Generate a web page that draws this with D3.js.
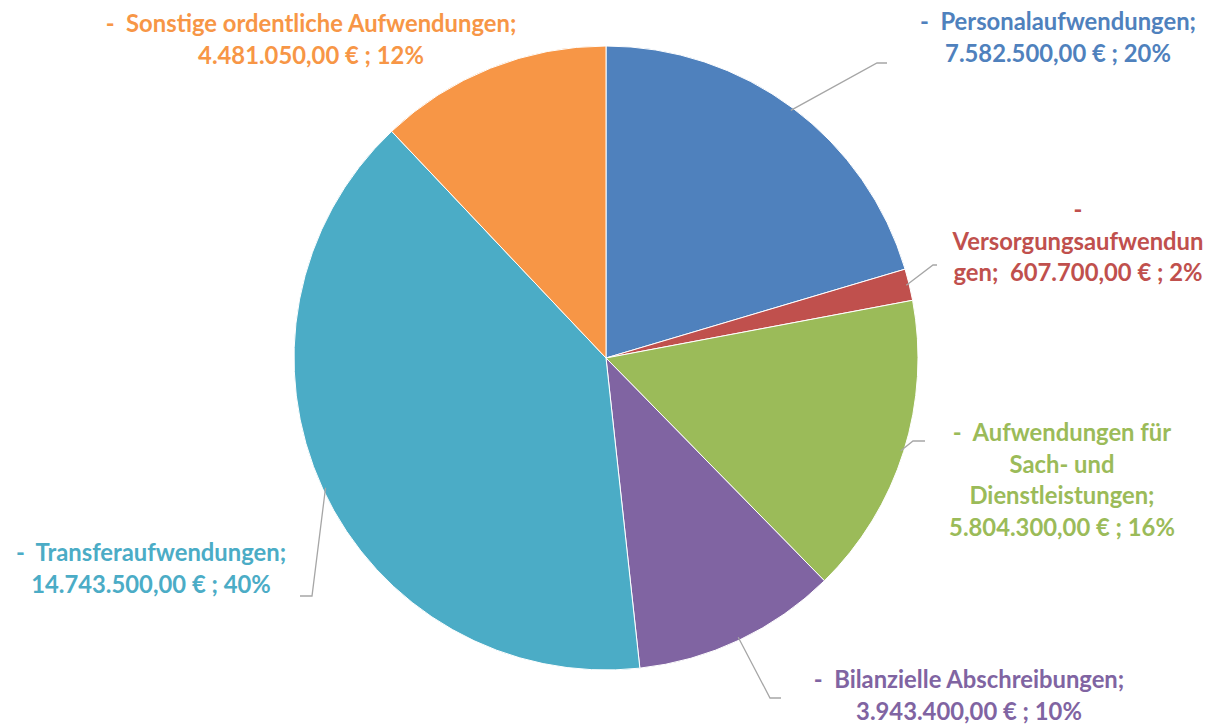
<!DOCTYPE html>
<html>
<head>
<meta charset="utf-8">
<script src="https://cdn.jsdelivr.net/npm/d3@7"></script>
<style>
  body { margin: 0; background: #fff; }
  text { font-family: "Lato", "Open Sans", sans-serif; font-weight: 700; }
</style>
</head>
<body>
<div id="chart"></div>
<script>
// chart data
var categories = ["Personalaufwendungen", "Versorgungsaufwendungen", "Aufwendungen für Sach- und Dienstleistungen",
                  "Bilanzielle Abschreibungen", "Transferaufwendungen", "Sonstige ordentliche Aufwendungen"];
var values = [7582500, 607700, 5804300, 3943400, 14743500, 4481050];
var percentLabels = ["20%", "2%", "16%", "10%", "40%", "12%"];
var colors = ["#4F81BD", "#C0504D", "#9BBB59", "#8064A2", "#4BACC6", "#F79646"];

// how each label is wrapped in the picture
var labelLines = [
    ["-  Personalaufwendungen;", "{v} ; {p}"],
    ["-", "Versorgungsaufwendun", "gen;  {v} ; {p}"],
    ["-  Aufwendungen für", "Sach- und", "Dienstleistungen;", "{v} ; {p}"],
    ["-  Bilanzielle Abschreibungen;", "{v} ; {p}"],
    ["-  Transferaufwendungen;", "{v} ; {p}"],
    ["-  Sonstige ordentliche Aufwendungen;", "{v} ; {p}"]
];

/* ****** Layout ****** */
var width = 1214;
var height = 724;
var cx = 606, cy = 358, radius = 312;
var lineHeight = 31.5;

// label block centre x, first line y, leader elbow (null = no leader)
var labelPos = [
    { x: 1058, y: 22,  elbow: [877, 63],  end: [887, 63] },
    { x: 1078, y: 210, elbow: [933, 265], end: [937, 265] },
    { x: 1062, y: 433, elbow: [913, 441], end: [925, 441] },
    { x: 969,  y: 680, elbow: [770, 698], end: [781, 698] },
    { x: 151,  y: 553, elbow: [312, 596], end: [300, 596] },
    { x: 311,  y: 24,  elbow: null, end: null }
];

var de = d3.formatLocale({ decimal: ",", thousands: ".", grouping: [3], currency: ["", " €"] });
var fmt = de.format(",.2f");

var svg = d3.select("#chart")
    .append("svg")
    .attr("width", width)
    .attr("height", height);

var g = svg.append("g")
    .attr("transform", "translate(" + cx + "," + cy + ")");

var pie = d3.pie().sort(null).value(function(d) { return d; });
var arcs = pie(values);

var arc = d3.arc().innerRadius(0).outerRadius(radius);

g.selectAll("path.slice")
    .data(arcs)
    .enter()
    .append("path")
    .attr("class", "slice")
    .attr("d", arc)
    .attr("fill", function(d, i) { return colors[i]; })
    .attr("stroke", "#fff")
    .attr("stroke-width", 1);

/* ****** Leader lines ****** */
var edge = d3.arc().innerRadius(radius - 3).outerRadius(radius - 3);

svg.selectAll("polyline.leader")
    .data(arcs.filter(function(d, i) { return labelPos[i].elbow; }))
    .enter()
    .append("polyline")
    .attr("class", "leader")
    .attr("fill", "none")
    .attr("stroke", "#A6A6A6")
    .attr("stroke-width", 1.3)
    .attr("points", function(d) {
        var c = edge.centroid(d);
        var p = labelPos[d.index];
        return [[cx + c[0], cy + c[1]], p.elbow, p.end].join(" ");
    });

/* ****** Labels ****** */
var labels = svg.selectAll("text.label")
    .data(arcs)
    .enter()
    .append("text")
    .attr("class", "label")
    .attr("fill", function(d, i) { return colors[i]; })
    .attr("font-size", 23.8)
    .attr("text-anchor", "middle");

labels.each(function(d, i) {
    var t = d3.select(this);
    var p = labelPos[i];
    labelLines[i].forEach(function(line, k) {
        var s = line.replace("{v}", fmt(values[i]) + " €").replace("{p}", percentLabels[i]);
        t.append("tspan")
            .attr("x", p.x)
            .attr("y", p.y + k * lineHeight)
            .attr("dy", "0.35em")
            .attr("xml:space", "preserve")
            .text(s);
    });
});
</script>
</body>
</html>
